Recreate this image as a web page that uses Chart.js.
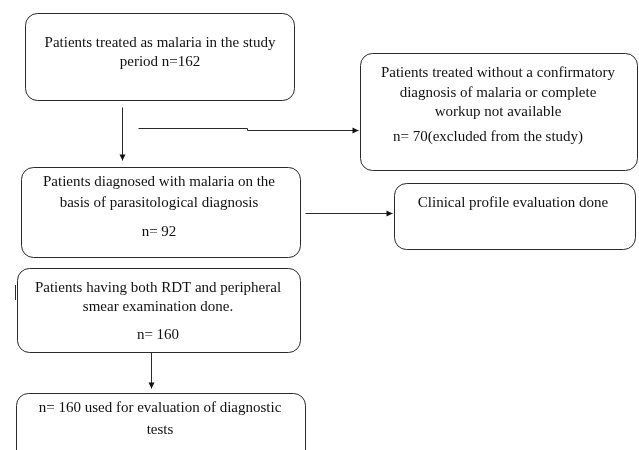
<!DOCTYPE html>
<html>
<head>
<meta charset="utf-8">
<script src="https://cdn.jsdelivr.net/npm/chart.js@4"></script>
<style>
  html, body { margin: 0; padding: 0; background: #fff; }
  #wrap { width: 639px; height: 450px; }
</style>
</head>
<body>
<div id="wrap"><canvas id="flow" width="639" height="450"></canvas></div>
<script>
// flowchart content
const stepNames = ["treated", "excluded", "diagnosed", "clinical", "bothTests", "evaluated"];
const stepCounts = [162, 70, 92, null, 160, 160];
const stepLines = [
  ["Patients treated as malaria in the study", "period n=162"],
  ["Patients treated without a confirmatory", "diagnosis of malaria or complete", "workup not available", "n= 70(excluded from the study)"],
  ["Patients diagnosed with malaria on the", "basis of parasitological diagnosis", "n= 92"],
  ["Clinical profile evaluation done"],
  ["Patients having both RDT and peripheral", "smear examination done.", "n= 160"],
  ["n= 160 used for evaluation of diagnostic", "tests"]
];

// layout (chart units == pixels, axes 0..639 / 0..450)
const layout = {
  treated:   { x: 25,  y: 13,  w: 269, h: 87,  ty: [43, 62], cx: 160 },
  excluded:  { x: 360, y: 53,  w: 277, h: 117, ty: [73, 93, 112, 137], cx: 498, lastCx: 488 },
  diagnosed: { x: 21,  y: 167, w: 279, h: 90,  ty: [182, 203, 232], cx: 159 },
  clinical:  { x: 394, y: 183, w: 241, h: 66,  ty: [203], cx: 513 },
  bothTests: { x: 17,  y: 268, w: 283, h: 84,  ty: [288, 307, 335], cx: 158 },
  evaluated: { x: 16,  y: 393, w: 289, h: 80,  ty: [408, 430], cx: 160 }
};

const arrows = [
  { pts: [[122, 107], [122, 160]] },
  { pts: [[138, 128], [247, 128], [247, 130], [358, 130]] },
  { pts: [[305, 213], [392, 213]] },
  { pts: [[151, 352], [151, 388]] }
];

const flowPlugin = {
  id: "flowPlugin",
  afterDraw(chart) {
    const ctx = chart.ctx;
    const sx = chart.scales.x, sy = chart.scales.y;
    const px = v => sx.getPixelForValue(v);
    const py = v => sy.getPixelForValue(v);

    ctx.save();
    ctx.strokeStyle = "#2a2a2a";
    ctx.lineWidth = 1;

    stepNames.forEach((name, i) => {
      const b = layout[name];
      const x0 = px(b.x), y0 = py(b.y), x1 = px(b.x + b.w), y1 = py(b.y + b.h);
      ctx.beginPath();
      ctx.roundRect(x0 + 0.5, y0 + 0.5, x1 - x0, y1 - y0, 12);
      ctx.stroke();

      ctx.font = "15px 'Liberation Serif', 'Times New Roman', serif";
      ctx.textAlign = "center";
      ctx.textBaseline = "middle";
      ctx.fillStyle = "#111";
      stepLines[i].forEach((line, j) => {
        let cx = b.cx;
        if (b.lastCx && j === stepLines[i].length - 1) cx = b.lastCx;
        ctx.fillText(line, px(cx), py(b.ty[j]));
      });
    });

    // connectors
    arrows.forEach(a => {
      ctx.beginPath();
      a.pts.forEach((p, k) => {
        const X = Math.round(px(p[0])) + 0.5, Y = Math.round(py(p[1])) + 0.5;
        if (k === 0) ctx.moveTo(X, Y); else ctx.lineTo(X, Y);
      });
      ctx.stroke();
      const n = a.pts.length;
      const [ex, ey] = a.pts[n - 1], [bx, by] = a.pts[n - 2];
      const ang = Math.atan2(py(ey) - py(by), px(ex) - px(bx));
      const tx = px(ex) + 0.5, ty = py(ey) + 0.5;
      ctx.beginPath();
      ctx.moveTo(tx, ty);
      ctx.lineTo(tx - 6 * Math.cos(ang) + 3 * Math.sin(ang), ty - 6 * Math.sin(ang) - 3 * Math.cos(ang));
      ctx.lineTo(tx - 6 * Math.cos(ang) - 3 * Math.sin(ang), ty - 6 * Math.sin(ang) + 3 * Math.cos(ang));
      ctx.closePath();
      ctx.fillStyle = "#111";
      ctx.fill();
    });

    // stray mark left of the RDT box
    ctx.beginPath();
    ctx.moveTo(px(15) + 0.5, py(285));
    ctx.lineTo(px(15) + 0.5, py(300));
    ctx.stroke();

    ctx.restore();
  }
};

new Chart(document.getElementById("flow"), {
  type: "scatter",
  data: {
    datasets: [{
      label: "steps",
      data: stepNames.map(n => ({ x: layout[n].x, y: layout[n].y })),
      pointRadius: 0
    }]
  },
  options: {
    responsive: false,
    animation: false,
    layout: { padding: 0 },
    plugins: { legend: { display: false }, tooltip: { enabled: false } },
    scales: {
      x: { type: "linear", min: 0, max: 639, display: false },
      y: { type: "linear", min: 0, max: 450, reverse: true, display: false }
    }
  },
  plugins: [flowPlugin]
});
</script>
</body>
</html>
